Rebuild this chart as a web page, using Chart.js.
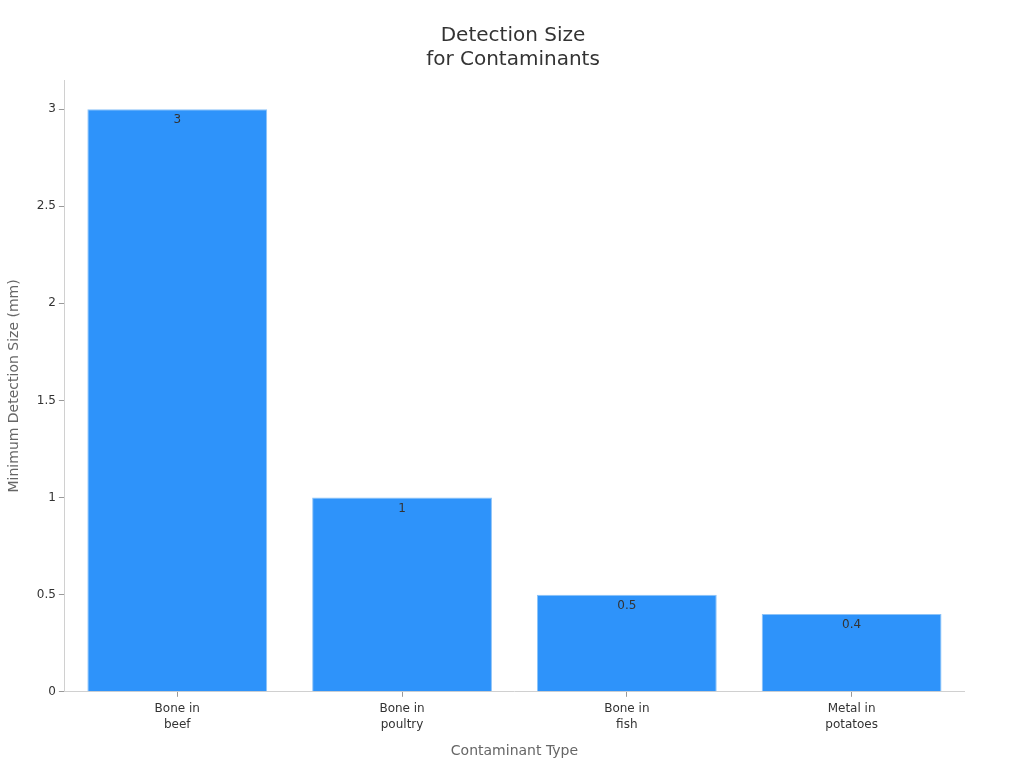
<!DOCTYPE html>
<html>
<head>
<meta charset="utf-8">
<script src="https://cdn.jsdelivr.net/npm/chart.js@4.4.1/dist/chart.umd.min.js"></script>
<style>
  html, body { margin: 0; padding: 0; background: #fff; }
  #wrap { width: 1024px; height: 768px; }
</style>
</head>
<body>
<div id="wrap"><canvas id="myChart"></canvas></div>
<script>
// data
const categories = [["Bone in", "beef"], ["Bone in", "poultry"], ["Bone in", "fish"], ["Metal in", "potatoes"]];
const detectionSize = [3, 1, 0.5, 0.4];
const yTicks = [0, 0.5, 1, 1.5, 2, 2.5, 3];

Chart.defaults.font.family = "'DejaVu Sans', sans-serif";

// value labels just under the top of each bar
const barLabels = {
  id: "barLabels",
  afterDatasetsDraw(chart) {
    const c = chart.ctx;
    const meta = chart.getDatasetMeta(0);
    c.save();
    c.font = "12px 'DejaVu Sans', sans-serif";
    c.fillStyle = "#333";
    c.textAlign = "center";
    c.textBaseline = "top";
    meta.data.forEach((bar, i) => {
      c.fillText(String(detectionSize[i]), bar.x, bar.y + 5);
    });
    c.restore();
  },
};

const ctx = document.getElementById("myChart");

new Chart(ctx, {
  type: "bar",
  data: {
    labels: categories,
    datasets: [
      {
        label: "Minimum Detection Size (mm)",
        data: detectionSize,
        backgroundColor: "#2e93fa",
        borderColor: "#8cc3f8",
        borderWidth: 1,
        categoryPercentage: 0.8,
        barPercentage: 1,
      },
    ],
  },
  options: {
    responsive: true,
    maintainAspectRatio: false,
    animation: false,
    layout: { padding: { left: 2, right: 0, top: 8, bottom: 4 } },
    plugins: {
      legend: { display: false },
      tooltip: { enabled: false },
      title: {
        display: true,
        text: ["Detection Size", "for Contaminants"],
        color: "#333",
        font: { size: 20, weight: "normal" },
        lineHeight: 1.35,
        padding: { top: 16, bottom: 8 },
      },
    },
    scales: {
      x: {
        grid: { display: true, drawOnChartArea: false, drawTicks: true, tickLength: 5, offset: false, color: "#999" },
        border: { display: true, color: "#d0d0d0" },
        ticks: { color: "#333", font: { size: 12, lineHeight: 1.35 }, padding: 4 },
        title: { display: true, text: "Contaminant Type", color: "#666", font: { size: 14 }, padding: { top: 6 } },
      },
      y: {
        min: 0,
        max: 3.15,
        afterBuildTicks(axis) {
          axis.ticks = yTicks.map((v) => ({ value: v }));
        },
        grid: { display: true, drawOnChartArea: false, drawTicks: true, tickLength: 6, color: "#999" },
        border: { display: true, color: "#d0d0d0" },
        ticks: { color: "#333", font: { size: 12 }, padding: 3, callback: (v) => String(v) },
        title: { display: true, text: "Minimum Detection Size (mm)", color: "#666", font: { size: 14 }, padding: { bottom: 11 } },
      },
      // empty right-hand strip so the plot ends short of the edge
      yRight: {
        position: "right",
        display: true,
        grid: { display: false },
        border: { display: false },
        ticks: { display: false },
        afterFit(axis) {
          axis.width = 60;
        },
      },
    },
  },
  plugins: [barLabels],
});
</script>
</body>
</html>
